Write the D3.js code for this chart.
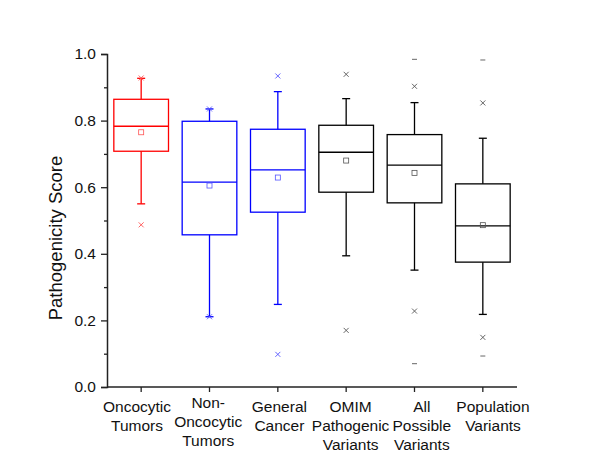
<!DOCTYPE html>
<html>
<head>
<meta charset="utf-8">
<script src="https://cdn.jsdelivr.net/npm/d3@7"></script>
<style>
  body { margin: 0; background: #fff; }
  text { font-family: "Liberation Sans", Arial, sans-serif; }
</style>
</head>
<body>
<div id="chart"></div>
<script>
// chart data
const categories = [
    ['Oncocytic', 'Tumors'],
    ['Non-', 'Oncocytic', 'Tumors'],
    ['General', 'Cancer'],
    ['OMIM', 'Pathogenic', 'Variants'],
    ['All', 'Possible', 'Variants'],
    ['Population', 'Variants']
]
const whiskerLow = [0.550, 0.211, 0.248, 0.394, 0.351, 0.218]
const q1 = [0.708, 0.457, 0.525, 0.585, 0.553, 0.375]
const median = [0.783, 0.615, 0.652, 0.705, 0.666, 0.484]
const q3 = [0.864, 0.798, 0.774, 0.786, 0.758, 0.610]
const whiskerHigh = [0.927, 0.835, 0.887, 0.866, 0.854, 0.747]
const means = [0.765, 0.605, 0.629, 0.680, 0.643, 0.486]
// 1% / 99% crosses
const crosses = [[0.928, 0.487], [0.835, 0.211], [0.934, 0.098], [0.939, 0.170], [0.903, 0.228], [0.853, 0.149]]
// min / max dashes
const extremes = [[], [], [], [], [0.984, 0.070], [0.982, 0.093]]
const yTicks = [0, 0.2, 0.4, 0.6, 0.8, 1.0]
const yMinorTicks = [0.1, 0.3, 0.5, 0.7, 0.9]

const lineColors = ['#ff0000', '#0000ff', '#0000ff', '#000000', '#000000', '#000000']
const markColors = ['#ff5555', '#5555ff', '#5555ff', '#555555', '#555555', '#555555']

const svgWidth = 600
const svgHeight = 464
const margin = { top: 54, right: 83, bottom: 77, left: 107 }
const width = svgWidth - margin.left - margin.right
const height = svgHeight - margin.top - margin.bottom

const svg = d3.select('#chart')
    .append('svg')
    .attr('width', svgWidth)
    .attr('height', svgHeight)

const chartGroup = svg.append('g')
    .attr('transform', `translate(${margin.left}, ${margin.top})`)

const idx = categories.map((d, i) => i)

const xScale = d3.scaleBand()
    .domain(idx)
    .range([0, width])

// labels in the reference spread a little wider than the ticks
const labelScale = d3.scalePoint()
    .domain(idx)
    .range([30, 386])

const yScale = d3.scaleLinear()
    .domain([0, 1])
    .range([height, 0])

const boxW = xScale.bandwidth() * 0.8
const capW = 8

// boxes
const boxes = chartGroup.selectAll('.box')
    .data(idx)
    .enter()
    .append('g')
    .attr('class', 'box')
    .attr('transform', i => `translate(${xScale(i) + xScale.bandwidth() / 2}, 0)`)

// whiskers
boxes.append('line')
    .attr('x1', 0).attr('x2', 0)
    .attr('y1', i => yScale(whiskerHigh[i]))
    .attr('y2', i => yScale(q3[i]))
    .attr('stroke', i => lineColors[i])
    .attr('stroke-width', 1.3)
boxes.append('line')
    .attr('x1', 0).attr('x2', 0)
    .attr('y1', i => yScale(q1[i]))
    .attr('y2', i => yScale(whiskerLow[i]))
    .attr('stroke', i => lineColors[i])
    .attr('stroke-width', 1.3)
boxes.append('line')
    .attr('x1', -capW / 2).attr('x2', capW / 2)
    .attr('y1', i => yScale(whiskerHigh[i]))
    .attr('y2', i => yScale(whiskerHigh[i]))
    .attr('stroke', i => lineColors[i])
    .attr('stroke-width', 1.3)
boxes.append('line')
    .attr('x1', -capW / 2).attr('x2', capW / 2)
    .attr('y1', i => yScale(whiskerLow[i]))
    .attr('y2', i => yScale(whiskerLow[i]))
    .attr('stroke', i => lineColors[i])
    .attr('stroke-width', 1.3)

boxes.append('rect')
    .attr('x', -boxW / 2)
    .attr('width', boxW)
    .attr('y', i => yScale(q3[i]))
    .attr('height', i => yScale(q1[i]) - yScale(q3[i]))
    .attr('fill', 'none')
    .attr('stroke', i => lineColors[i])
    .attr('stroke-width', 1.3)

boxes.append('line')
    .attr('x1', -boxW / 2).attr('x2', boxW / 2)
    .attr('y1', i => yScale(median[i]))
    .attr('y2', i => yScale(median[i]))
    .attr('stroke', i => lineColors[i])
    .attr('stroke-width', 1.3)

// mean squares
boxes.append('rect')
    .attr('x', -2.5)
    .attr('y', i => yScale(means[i]) - 2.5)
    .attr('width', 5)
    .attr('height', 5)
    .attr('fill', 'none')
    .attr('stroke', i => markColors[i])
    .attr('stroke-width', 0.8)

// crosses and min/max dashes
boxes.each(function(i) {
    const g = d3.select(this)
    crosses[i].forEach(v => {
        const y = yScale(v)
        g.append('path')
            .attr('d', `M-2.5,${y - 2.5}L2.5,${y + 2.5}M-2.5,${y + 2.5}L2.5,${y - 2.5}`)
            .attr('stroke', markColors[i])
            .attr('stroke-width', 0.9)
    })
    extremes[i].forEach(v => {
        const y = yScale(v)
        g.append('line')
            .attr('x1', -2.5).attr('x2', 2.5)
            .attr('y1', y).attr('y2', y)
            .attr('stroke', markColors[i])
            .attr('stroke-width', 0.9)
    })
})

// axes
const yAxis = d3.axisLeft(yScale)
    .tickValues(yTicks)
    .tickFormat(d3.format('.1f'))
    .tickSize(6)
    .tickPadding(5)
const yAxisG = chartGroup.append('g').call(yAxis)
yAxisG.select('.domain').attr('stroke', '#222').attr('stroke-width', 1.5)
yAxisG.selectAll('.tick line').attr('stroke', '#222').attr('stroke-width', 1.3)
yAxisG.selectAll('text')
    .attr('font-size', 15.5)
    .attr('fill', '#111')
    .style('font-family', '"Liberation Sans", Arial, sans-serif')

const yMinor = d3.axisLeft(yScale)
    .tickValues(yMinorTicks)
    .tickFormat('')
    .tickSize(3)
const yMinorG = chartGroup.append('g').call(yMinor)
yMinorG.select('.domain').remove()
yMinorG.selectAll('.tick line').attr('stroke', '#222').attr('stroke-width', 1.3)

const xAxis = d3.axisBottom(xScale)
    .tickFormat('')
    .tickSize(5)
const xAxisG = chartGroup.append('g')
    .attr('transform', `translate(0, ${height})`)
    .call(xAxis)
xAxisG.select('.domain').attr('stroke', '#222').attr('stroke-width', 1.5)
    .attr('d', `M0,0H${width}`)
xAxisG.selectAll('.tick line').attr('stroke', '#222').attr('stroke-width', 1.3)

// x labels, multi-line
chartGroup.append('g')
    .attr('transform', `translate(0, ${height})`)
    .selectAll('text')
    .data(idx)
    .enter()
    .append('text')
    .attr('fill', '#111')
    .attr('font-size', 15.5)
    .attr('text-anchor', 'middle')
    .attr('y', i => i === 1 ? 21 : 25)
    .each(function(i) {
        const t = d3.select(this)
        categories[i].forEach((line, k) => {
            t.append('tspan')
                .attr('x', labelScale(i))
                .attr('dy', k === 0 ? 0 : 19)
                .text(line)
        })
    })

// y label
chartGroup.append('text')
    .attr('transform', `translate(${62 - margin.left}, ${238 - margin.top}) rotate(-90)`)
    .attr('text-anchor', 'middle')
    .attr('font-size', 18.5)
    .attr('fill', '#111')
    .text('Pathogenicity Score')
</script>
</body>
</html>
